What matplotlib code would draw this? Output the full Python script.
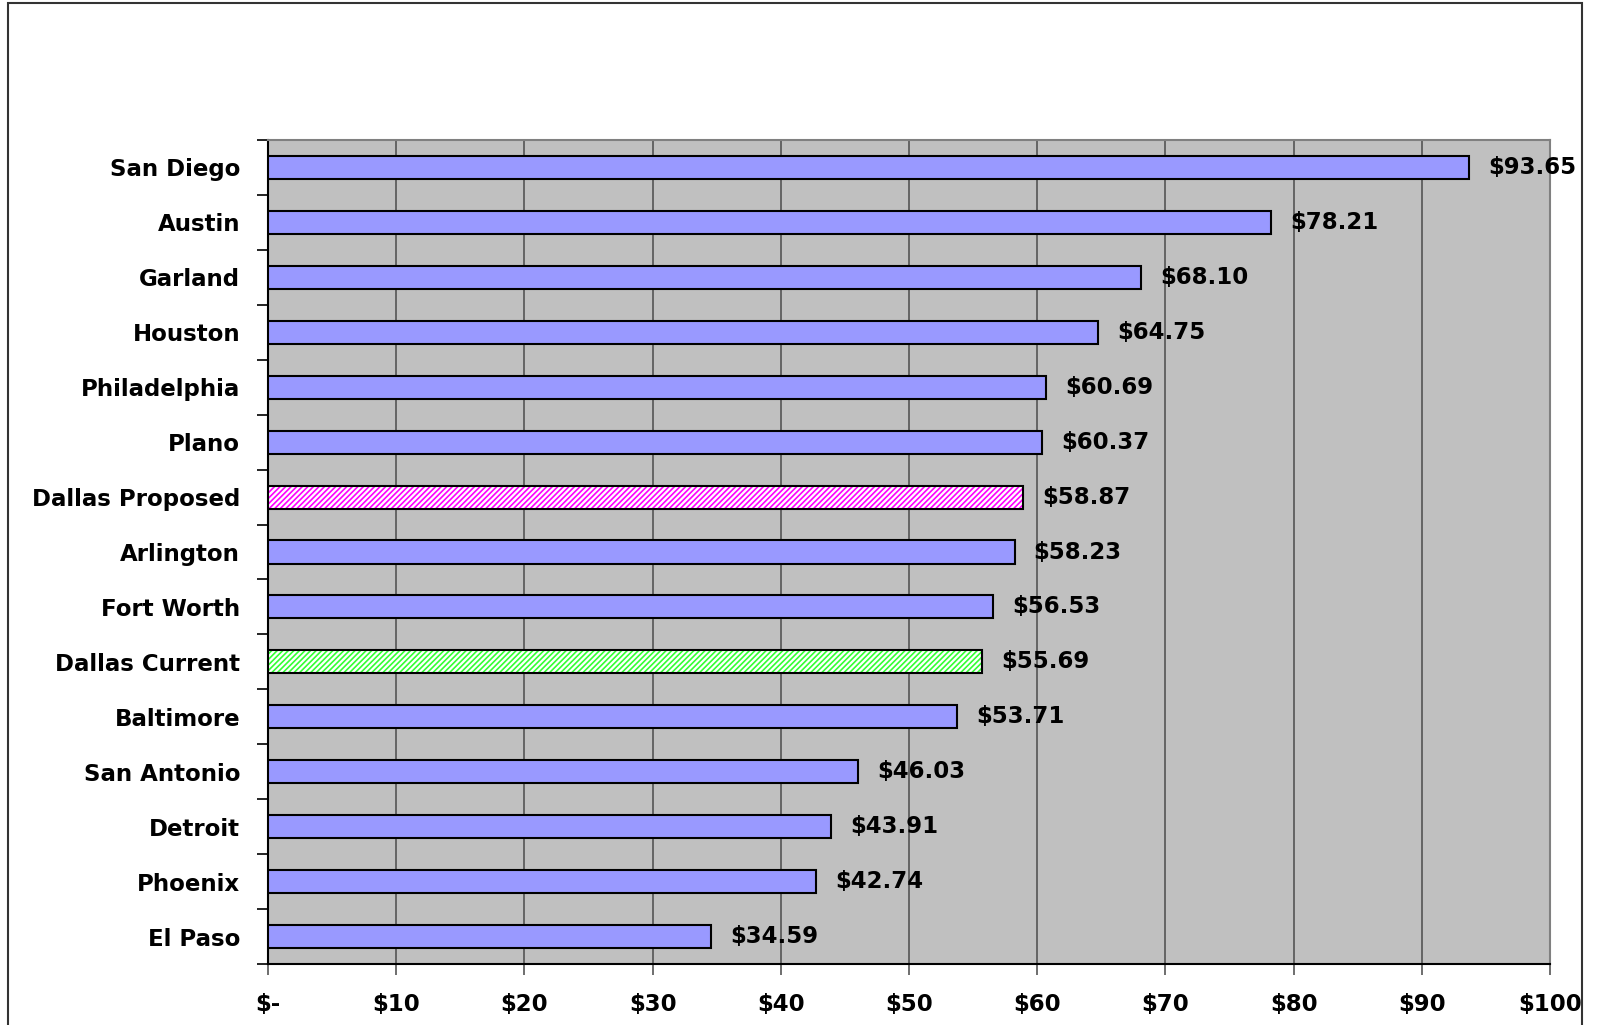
import matplotlib
matplotlib.use("Agg")
import matplotlib.pyplot as plt
from matplotlib.patches import Rectangle
import numpy as np

cities = ["San Diego", "Austin", "Garland", "Houston", "Philadelphia", "Plano",
          "Dallas Proposed", "Arlington", "Fort Worth", "Dallas Current",
          "Baltimore", "San Antonio", "Detroit", "Phoenix", "El Paso"]
values = [93.65, 78.21, 68.10, 64.75, 60.69, 60.37, 58.87, 58.23, 56.53, 55.69,
          53.71, 46.03, 43.91, 42.74, 34.59]
xticks = [0, 10, 20, 30, 40, 50, 60, 70, 80, 90, 100]
xticklabels = ["$-", "$10", "$20", "$30", "$40", "$50", "$60", "$70", "$80", "$90", "$100"]

plt.rcParams['font.family'] = ['DejaVu Sans']
plt.rcParams['hatch.linewidth'] = 1.2

W, H = 1618, 1025
fig = plt.figure(figsize=(W / 100, H / 100), dpi=100)
fig.patch.set_facecolor("white")

# outer chart-area frame
fig.add_artist(Rectangle((8 / W, -0.05), (1582 - 8) / W, 1.05 - 3 / H,
                         transform=fig.transFigure, fill=False,
                         edgecolor="#333333", linewidth=1.5))

ax = fig.add_axes([268 / W, 1 - 964 / H, (1550 - 268) / W, (964 - 140) / H])
ax.set_facecolor("#C0C0C0")

FS = 16.5
n = len(cities)
y = np.arange(n)
special = {"Dallas Proposed": "#FF00FF", "Dallas Current": "#33FF33"}
for yi, c, v in zip(y, cities, values):
    if c in special:
        ax.barh(yi, v, height=0.42, color="white", edgecolor=special[c],
                hatch="//////", linewidth=0, zorder=3)
        ax.barh(yi, v, height=0.42, fill=False, edgecolor="black",
                linewidth=1.5, zorder=4)
    else:
        ax.barh(yi, v, height=0.42, color="#9999FF", edgecolor="black",
                linewidth=1.5, zorder=3)
    ax.text(v + 1.5, yi, f"${v:.2f}", va="center", ha="left",
            fontsize=FS, fontweight="bold", zorder=5, clip_on=False)

ax.set_xlim(0, 100)
ax.set_ylim(n - 0.5, -0.5)
ax.set_xticks(xticks)
ax.set_xticklabels(xticklabels, fontsize=FS, fontweight="bold")
ax.set_yticks(y)
ax.set_yticklabels(cities, fontsize=FS, fontweight="bold")
ax.set_yticks(np.arange(n + 1) - 0.5, minor=True)
ax.tick_params(axis="y", which="major", length=0, pad=20)
ax.tick_params(axis="y", which="minor", length=8, width=1.2, direction="out")
ax.tick_params(axis="x", which="major", length=8, width=1.2, direction="out",
               pad=13, color="#555555")
ax.xaxis.grid(True, color="#555555", linewidth=1.2, zorder=1)
ax.set_axisbelow(True)

ax.spines["left"].set_color("black")
ax.spines["bottom"].set_color("black")
ax.spines["left"].set_linewidth(1.5)
ax.spines["bottom"].set_linewidth(1.5)
ax.spines["top"].set_color("#808080")
ax.spines["right"].set_color("#808080")
ax.spines["top"].set_linewidth(1.5)
ax.spines["right"].set_linewidth(1.5)

fig.savefig("out.png", dpi=100)
